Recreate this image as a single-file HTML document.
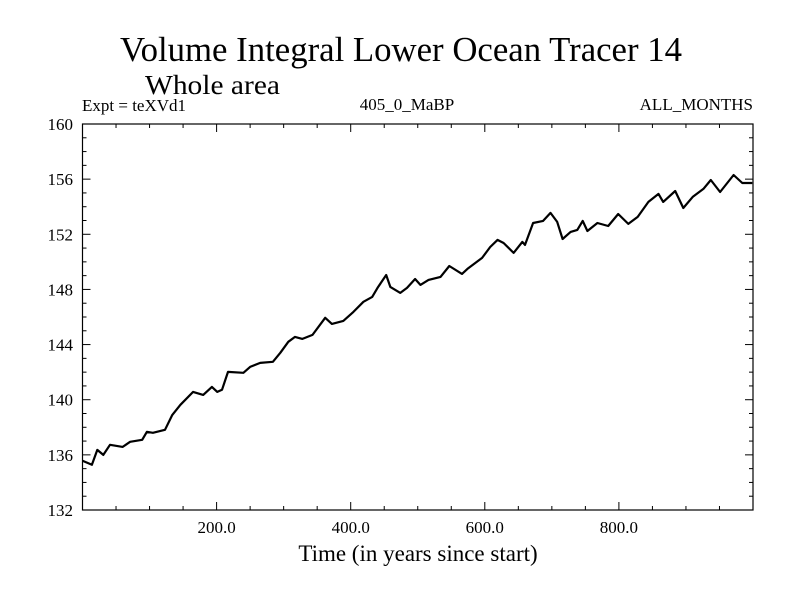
<!DOCTYPE html>
<html><head><meta charset="utf-8"><style>
body{margin:0;background:#fff}
svg text{font-family:"Liberation Serif",serif;fill:#000}
</style></head><body>
<svg id="chart" width="800" height="600" xmlns="http://www.w3.org/2000/svg">
<rect width="800" height="600" fill="#fff"/>
<text x="401" y="61" font-size="35" text-anchor="middle" textLength="562" lengthAdjust="spacingAndGlyphs">Volume Integral Lower Ocean Tracer 14</text>
<text x="145" y="94" font-size="27" textLength="135" lengthAdjust="spacingAndGlyphs">Whole area</text>
<text x="82" y="111" font-size="17">Expt = teXVd1</text>
<text x="407" y="110" font-size="17" text-anchor="middle">405_0_MaBP</text>
<text x="753" y="110" font-size="17" text-anchor="end">ALL_MONTHS</text>
<text x="418" y="561" font-size="23" text-anchor="middle">Time (in years since start)</text>
<g id="axes"></g>
<path id="series" fill="none" stroke="#000" stroke-width="2.2" stroke-linejoin="round"/>
<rect x="82.5" y="124" width="670.5" height="386" fill="none" stroke="#000" stroke-width="1.2"/>
</svg>
<script>
const years=[0,14,22,31,41,60,71,89,96,105,123,134,146,165,180,193,201,208,217,240,250,265,284,295,307,317,328,343,362,372,389,404,419,432,440,448,453,459,474,484,496,504,516,534,547,566,574,596,608,619,628,643,656,660,672,687,698,708,716,728,738,746,753,768,784,799,814,828,844,859,866,884,896,910,926,937,951,971,984,999];
const values=[135.57,135.28,136.36,136.0,136.73,136.58,136.95,137.09,137.67,137.6,137.82,138.9,139.63,140.57,140.35,140.93,140.57,140.72,142.02,141.95,142.38,142.67,142.75,143.4,144.2,144.56,144.41,144.7,145.94,145.5,145.72,146.37,147.1,147.46,148.11,148.69,149.05,148.18,147.75,148.11,148.76,148.33,148.69,148.91,149.7,149.13,149.49,150.29,151.08,151.59,151.37,150.65,151.45,151.23,152.82,152.97,153.55,152.9,151.66,152.17,152.32,152.97,152.24,152.82,152.6,153.47,152.75,153.26,154.35,154.93,154.35,155.14,153.91,154.71,155.29,155.94,155.07,156.3,155.72,155.72];
const xTicks=[200,400,600,800];
const xTickLabels=["200.0","400.0","600.0","800.0"];
const yTicks=[132,136,140,144,148,152,156,160];
const L=82.5,R=753,T=124,B=510,X0=0,X1=1000,Y0=132,Y1=160;
function sx(v){return L+(v-X0)/(X1-X0)*(R-L);}
function sy(v){return B-(v-Y0)/(Y1-Y0)*(B-T);}
const NS="http://www.w3.org/2000/svg";
const ax=document.getElementById('axes');
function line(x1,y1,x2,y2,name){const l=document.createElementNS(NS,'line');l.setAttribute('x1',x1);l.setAttribute('y1',y1);l.setAttribute('x2',x2);l.setAttribute('y2',y2);l.setAttribute('stroke','#000');l.setAttribute('stroke-width','1');


ax.appendChild(l);}
for(let v=50;v<1000;v+=50){const major=v%200===0;const len=major?8:4;const x=sx(v);line(x,B,x,B-len,'x-tick');line(x,T,x,T+len,'x-tick-top');}
for(let v=133;v<160;v++){const major=v%4===0;const len=major?8:4;const y=sy(v);line(L,y,L+len,y,'y-tick');line(R,y,R-len,y,'y-tick-right');}
xTicks.forEach((v,i)=>{const t=document.createElementNS(NS,'text');t.setAttribute('x',sx(v));t.setAttribute('y',533);t.setAttribute('font-size','17');t.setAttribute('text-anchor','middle');t.textContent=xTickLabels[i];


ax.appendChild(t);});
yTicks.forEach(v=>{const t=document.createElementNS(NS,'text');t.setAttribute('x',73);t.setAttribute('y',sy(v)+6);t.setAttribute('font-size','17');t.setAttribute('text-anchor','end');t.textContent=v;


ax.appendChild(t);});
document.getElementById('series').setAttribute('d',years.map((y,i)=>(i?'L':'M')+sx(y).toFixed(1)+' '+sy(values[i]).toFixed(1)).join(' '));
</script>
</body></html>
